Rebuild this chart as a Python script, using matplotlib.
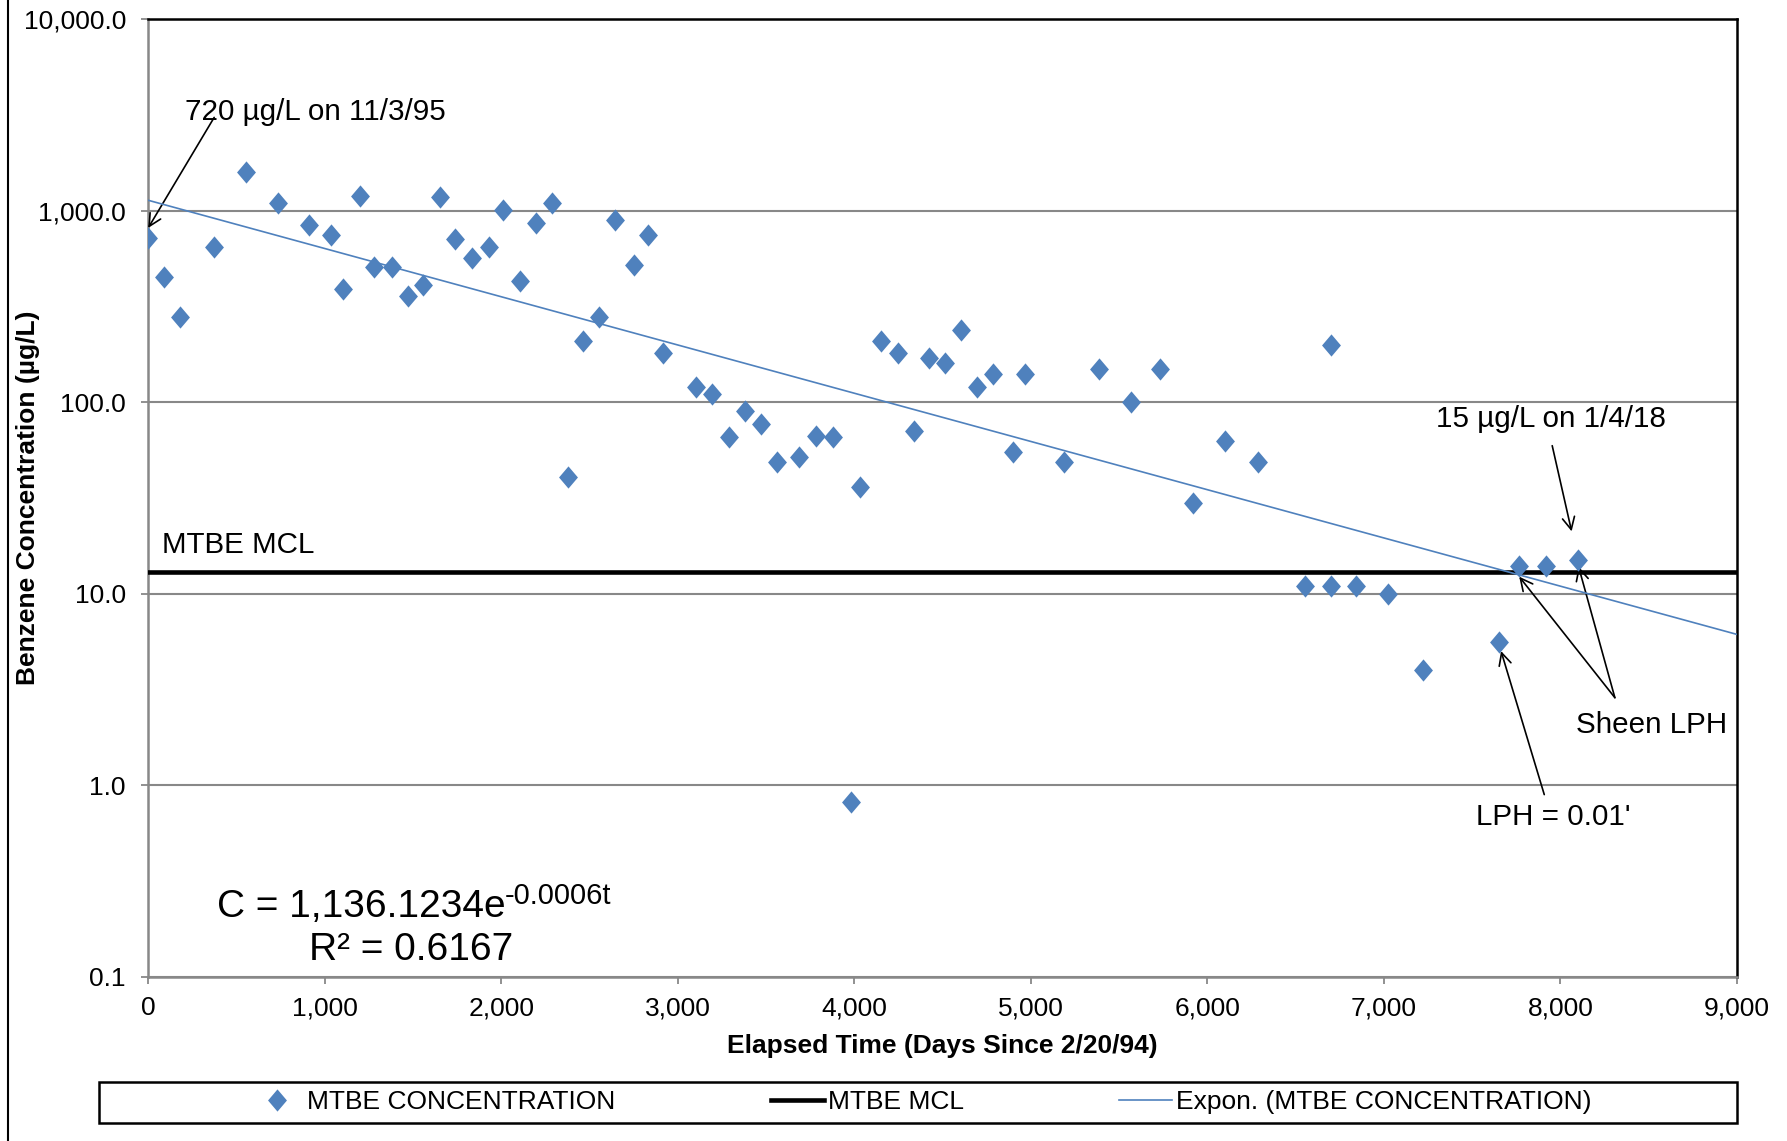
import matplotlib
matplotlib.use("Agg")
import matplotlib.pyplot as plt
import numpy as np
from matplotlib.lines import Line2D
from matplotlib.patches import Rectangle

plt.rcParams['font.family'] = ['Liberation Sans', 'DejaVu Sans']

# ---- data ----
days = [0, 90, 181, 374, 555, 736, 910, 1033, 1104, 1201, 1278, 1382, 1472, 1556,
        1653, 1737, 1833, 1930, 2008, 2105, 2195, 2285, 2376, 2466, 2556, 2647,
        2750, 2834, 2918, 3105, 3196, 3292, 3383, 3473, 3564, 3686, 3783, 3880,
        4035, 3983, 4151, 4248, 4338, 4422, 4513, 4603, 4693, 4784, 4900, 4965,
        5190, 5384, 5565, 5733, 5920, 6101, 6288, 6553, 6701, 6701, 6843, 7024,
        7224, 7650, 7766, 7921, 8102]
conc = [720, 450, 280, 650, 1600, 1100, 840, 750, 390, 1200, 510, 510, 360, 410,
        1180, 710, 570, 650, 1010, 430, 860, 1100, 41, 210, 280, 900,
        520, 750, 180, 120, 110, 66, 90, 77, 49, 52, 67, 66,
        36, 0.82, 210, 180, 71, 170, 160, 240, 120, 140, 55, 140,
        49, 150, 100, 150, 30, 63, 49, 11, 200, 11, 11, 10,
        4.0, 5.6, 14, 14, 15]
mcl = 13.0
fit_a = 1136.1234
fit_k = 0.00058
x_ticks = [0, 1000, 2000, 3000, 4000, 5000, 6000, 7000, 8000, 9000]
y_ticks = [0.1, 1, 10, 100, 1000, 10000]

series_name = 'MTBE CONCENTRATION'
mcl_name = 'MTBE MCL'
fit_name = 'Expon. (MTBE CONCENTRATION)'

blue = '#4F81BD'
grid_gray = '#888888'
FS = 19
AFS = 21.3

W, H = 1568, 1001  # coordinate system of layout measurements
fig = plt.figure(figsize=(17.87, 11.41), dpi=100)
ax = fig.add_axes([130 / W, 1 - 857 / H, 1394 / W, 840 / H])

diamond = [(0, 1), (0.85, 0), (0, -1), (-0.85, 0), (0, 1)]

ax.axhline(mcl, color='black', lw=3.3, zorder=3)
ax.plot(days, conc, linestyle='none', marker=diamond, ms=16, color=blue,
        markeredgewidth=0, zorder=4)
t = np.linspace(0, 9000, 200)
ax.plot(t, fit_a * np.exp(-fit_k * t), color=blue, lw=1.2, zorder=5)

ax.set_yscale('log')
ax.set_xlim(0, 9000)
ax.set_ylim(0.1, 10000)
ax.set_xticks(x_ticks)
ax.set_xticklabels([f'{v:,.0f}' for v in x_ticks])
ax.set_yticks(y_ticks)
ax.set_yticklabels([f'{v:,.1f}' for v in y_ticks])
ax.yaxis.set_minor_locator(matplotlib.ticker.NullLocator())
ax.grid(axis='y', color=grid_gray, lw=1.5, zorder=0)
ax.set_axisbelow(True)
ax.tick_params(axis='both', which='major', direction='out', length=5, width=1.3,
               color=grid_gray, labelsize=FS)
ax.tick_params(axis='y', pad=11)
ax.tick_params(axis='x', pad=9)
for s in ['left', 'bottom']:
    ax.spines[s].set_color(grid_gray)
    ax.spines[s].set_linewidth(1.8)
for s in ['top', 'right']:
    ax.spines[s].set_color('black')
    ax.spines[s].set_linewidth(1.8)

ax.set_xlabel('Elapsed Time (Days Since 2/20/94)', fontsize=FS, fontweight='bold')
ax.xaxis.set_label_coords(0.5, (857 - 907) / 840)
ax.set_ylabel('Benzene Concentration (µg/L)', fontsize=FS, fontweight='bold')
ax.yaxis.set_label_coords((35 - 130) / 1394, 0.5)

arrow = dict(arrowstyle='->', color='black', lw=1.2, mutation_scale=22, shrinkA=0, shrinkB=0)
ax.annotate('', xy=(0, 814), xytext=(374, 3076), arrowprops=arrow)
ax.text(207, 3296, '720 µg/L on 11/3/95', fontsize=AFS, va='center', ha='left')
ax.text(77, 18.0, 'MTBE MCL', fontsize=AFS, va='center', ha='left')
ax.text(7296, 81.5, '15 µg/L on 1/4/18', fontsize=AFS, va='center', ha='left')
ax.annotate('', xy=(8064, 21.2), xytext=(7954, 59.4), arrowprops=arrow)
ax.text(8090, 2.07, 'Sheen LPH', fontsize=AFS, va='center', ha='left')
ax.annotate('', xy=(7767, 12.3), xytext=(8309, 2.87), arrowprops=arrow)
ax.annotate('', xy=(8103, 13.9), xytext=(8309, 2.87), arrowprops=arrow)
ax.text(7522, 0.68, "LPH = 0.01'", fontsize=AFS, va='center', ha='left')
ax.annotate('', xy=(7664, 5.03), xytext=(7909, 0.895), arrowprops=arrow)

eq = ax.text((190 - 130) / 1394, (857 - 796) / 840, 'C = 1,136.1234e',
             transform=ax.transAxes, fontsize=28, va='center', ha='left')
ax.annotate('-0.0006t', xy=(1.0, 1.0), xycoords=eq, xytext=(0, 5),
            textcoords='offset points', fontsize=21, va='top', ha='left')
ax.text((271 - 130) / 1394, (857 - 833) / 840, 'R² = 0.6167', transform=ax.transAxes,
        fontsize=28, va='center', ha='left')

# legend
handles = [Line2D([], [], linestyle='none', marker=diamond, ms=16, color=blue, markeredgewidth=0),
           Line2D([], [], color='black', lw=3.3),
           Line2D([], [], color=blue, lw=1.2)]
fig.legend(handles, [series_name, mcl_name, fit_name], loc='center',
           bbox_to_anchor=(808 / W, 1 - 967 / H), ncol=3, frameon=False,
           fontsize=FS, handlelength=2.0, handletextpad=0.15, columnspacing=5.9)
fig.add_artist(Rectangle((87 / W, 1 - 985 / H), 1437 / W, 36 / H, transform=fig.transFigure,
                         fill=False, edgecolor='black', lw=1.8))
fig.add_artist(Line2D([7 / W, 7 / W], [0, 1], transform=fig.transFigure, color='black', lw=1.5))

fig.savefig('out.png', dpi=100)
